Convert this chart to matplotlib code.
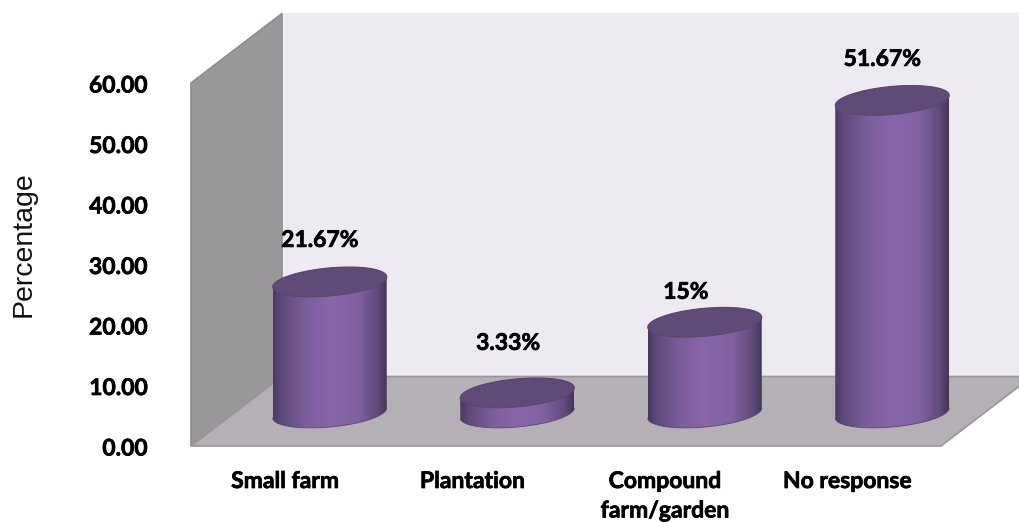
import numpy as np
import matplotlib
matplotlib.use("Agg")
import matplotlib.pyplot as plt
import matplotlib.patheffects as pe
from matplotlib.colors import LinearSegmentedColormap
from matplotlib.path import Path
from matplotlib.patches import PathPatch, Polygon
from matplotlib.transforms import ScaledTranslation

categories = ["Small farm", "Plantation", "Compound\nfarm/garden", "No response"]
values = [21.67, 3.33, 15.0, 51.67]
value_labels = ["21.67%", "3.33%", "15%", "51.67%"]
y_ticks = [0, 10, 20, 30, 40, 50, 60]

W, H = 1020, 523
fig = plt.figure(figsize=(W / 100, H / 100), dpi=100, facecolor="white")
ax = fig.add_axes([191 / W, 1 - 446 / H, 750 / W, 363 / H])
ax.set_xlim(-0.5, 3.5)
ax.set_ylim(0, 60)
for s in ax.spines.values():
    s.set_visible(False)

xl, xr = -0.5, 3.5
ddx, ddy = 91 / 187.5, 69.5 / 6.05
# walls
ax.add_patch(Polygon([(xl + ddx, ddy), (xr + ddx, ddy), (xr + ddx, 60 + ddy), (xl + ddx, 60 + ddy)],
                     fc="#edeaf1", ec="none", clip_on=False, zorder=1))
ax.add_patch(Polygon([(xl, 0), (xl + ddx, ddy), (xl + ddx, 60 + ddy), (xl, 60)],
                     fc="#9a979b", ec="#8d8b8e", lw=1.2, clip_on=False, zorder=2))
ax.add_patch(Polygon([(xl, 0), (xr, 0), (xr + ddx, ddy), (xl + ddx, ddy)],
                     fc="#b4b0b5", ec="#98969a", lw=1.2, clip_on=False, zorder=2))

cmap = LinearSegmentedColormap.from_list(
    "cyl", [(0, "#4a3a60"), (0.08, "#5f4a7c"), (0.28, "#7a5e9a"), (0.5, "#8866a9"),
            (0.75, "#7f619f"), (0.92, "#5f4a7a"), (1, "#443558")])
grad = np.linspace(0, 1, 256)[None, :]

cdx, cdy = 45 / 187.5, 33 / 6.05
a, b, k = 57 / 187.5, 14 / 6.05, 5 / 6.05


def ring(cx, cy, t):
    return np.column_stack([cx + a * np.cos(t), cy + b * np.sin(t) + k * np.cos(t)])


tick_x = np.arange(len(categories))
for xv, v in zip(tick_x, values):
    cx = xv + cdx
    base, top = cdy, cdy + v
    lower = ring(cx, base, np.linspace(np.pi, 2 * np.pi, 80))
    upper = ring(cx, top, np.linspace(0, np.pi, 80))
    verts = np.vstack([lower, upper, lower[:1]])
    body = PathPatch(Path(verts), fc="none", ec="none", clip_on=False, zorder=3)
    ax.add_patch(body)
    im = ax.imshow(grad, extent=[cx - a, cx + a, base - 4, top + 4], aspect="auto",
                   cmap=cmap, zorder=3, interpolation="bilinear")
    im.set_clip_box(fig.bbox)
    im.set_clip_path(body)
    ax.plot(lower[:, 0], lower[:, 1], color="#5a4478", lw=0.6, clip_on=False, zorder=4)
    cap = ring(cx, top, np.linspace(0, 2 * np.pi, 160))
    ax.add_patch(Polygon(cap, fc="#604a78", ec="#5a4670", lw=0.8, clip_on=False, zorder=5))
ax.set_xlim(-0.5, 3.5)
ax.set_ylim(0, 60)

bold = [pe.withStroke(linewidth=0.5, foreground="black")]
label_dx = [-10, -9, -19, -10]
label_dy = [41.5, 49.5, 30, 41]
for xv, v, s, dx, dy in zip(tick_x, values, value_labels, label_dx, label_dy):
    ax.annotate(s, (xv + cdx, cdy + v), xytext=(dx * 0.72, dy * 0.72), textcoords="offset points",
                ha="center", va="center", family="Lato", weight="bold", fontsize=16.5,
                color="black", zorder=6, annotation_clip=False, path_effects=bold)

ax.set_xticks(tick_x, categories, family="Lato", weight="bold", fontsize=16.5, linespacing=1.5)
ax.set_yticks(y_ticks, [f"{t:.2f}" for t in y_ticks], family="Lato", weight="bold", fontsize=16.5)
ax.tick_params(axis="both", length=0)
ax.tick_params(axis="x", pad=18)
ax.tick_params(axis="y", pad=31)
px = fig.dpi_scale_trans
for lab in ax.get_yticklabels():
    lab.set_transform(lab.get_transform() + ScaledTranslation(0, -0.01, px))
    lab.set_path_effects(bold)
for i, lab in enumerate(ax.get_xticklabels()):
    lab.set_path_effects(bold)
    if i == 2:
        lab.set_transform(lab.get_transform() + ScaledTranslation(0.05, 0, px))
fig.text(24 / W, 1 - 244.5 / H, "Percentage", rotation=90, ha="center", va="center",
         family="Liberation Sans", fontsize=20.5, color="#111111")

fig.savefig("out.png", dpi=100, facecolor="white")
